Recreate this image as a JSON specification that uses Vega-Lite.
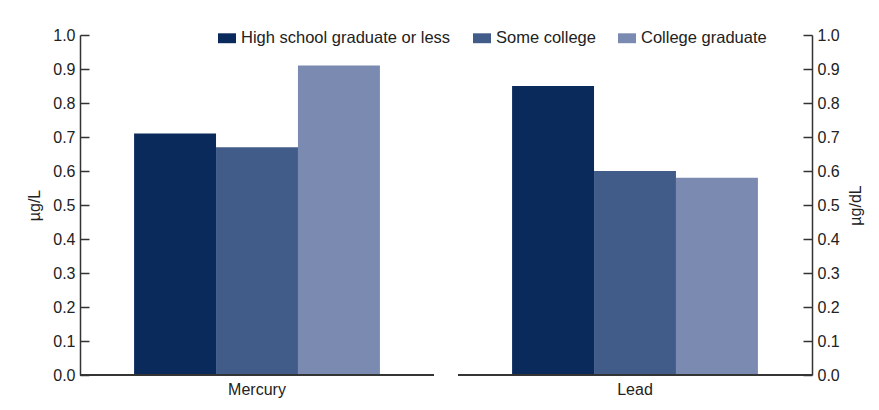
{
  "$schema": "https://vega.github.io/schema/vega-lite/v6.json",
  "autosize": {"type": "none"},
  "padding": {"left": 80, "top": 35, "right": 67, "bottom": 35},
  "width": 732,
  "height": 340,
  "background": "white",
  "data": {
    "values": [
      {"material": "Mercury", "education": "High school graduate or less", "value": 0.71},
      {"material": "Mercury", "education": "Some college", "value": 0.67},
      {"material": "Mercury", "education": "College graduate", "value": 0.91},
      {"material": "Lead", "education": "High school graduate or less", "value": 0.85},
      {"material": "Lead", "education": "Some college", "value": 0.60},
      {"material": "Lead", "education": "College graduate", "value": 0.58}
    ]
  },
  "encoding": {
    "x": {
      "field": "material",
      "type": "nominal",
      "sort": ["Mercury", "Lead"],
      "scale": {"paddingInner": 0.0635, "paddingOuter": 0},
      "axis": {
        "title": null,
        "ticks": false,
        "domain": false,
        "labelAngle": 0,
        "labelPadding": 6,
        "labelFontSize": 16,
        "labelColor": "#222222"
      }
    }
  },
  "layer": [
    {
      "mark": {"type": "bar"},
      "encoding": {
        "xOffset": {
          "field": "education",
          "type": "nominal",
          "sort": ["High school graduate or less", "Some college", "College graduate"],
          "scale": {"paddingInner": 0, "paddingOuter": 0.66}
        },
        "y": {
          "field": "value",
          "type": "quantitative",
          "scale": {"domain": [0, 1], "nice": false},
          "axis": {
            "orient": "left",
            "title": "µg/L",
            "titlePadding": 10,
            "values": [0, 0.1, 0.2, 0.3, 0.4, 0.5, 0.6, 0.7, 0.8, 0.9, 1.0],
            "format": ".1f"
          }
        },
        "color": {
          "field": "education",
          "type": "nominal",
          "sort": ["High school graduate or less", "Some college", "College graduate"],
          "scale": {"range": ["#0b2a5c", "#425c8a", "#7a8ab0"]},
          "legend": {
            "title": null,
            "orient": "none",
            "direction": "horizontal",
            "legendX": 138,
            "legendY": -6,
            "symbolType": "M-1,-0.55H1V0.55H-1Z",
            "symbolSize": 324,
            "symbolStrokeWidth": 0,
            "symbolOpacity": 1,
            "labelFontSize": 16.5,
            "labelColor": "#222222",
            "labelLimit": 0,
            "labelOffset": 5,
            "columnPadding": 22,
            "padding": 0
          }
        }
      }
    },
    {
      "mark": {"type": "bar", "fill": null, "stroke": "#333333", "strokeWidth": 1.5},
      "encoding": {
        "y": {
          "datum": 0,
          "type": "quantitative",
          "axis": {
            "orient": "right",
            "title": "µg/dL",
            "titleAngle": 270,
            "titleBaseline": "top",
            "titlePadding": 8,
            "values": [0, 0.1, 0.2, 0.3, 0.4, 0.5, 0.6, 0.7, 0.8, 0.9, 1.0],
            "format": ".1f"
          }
        },
        "y2": {"datum": 0}
      }
    }
  ],
  "resolve": {"axis": {"y": "independent"}},
  "config": {
    "font": "Liberation Sans",
    "view": {"stroke": null},
    "axis": {
      "grid": false,
      "domainColor": "#333333",
      "domainWidth": 1.5,
      "tickColor": "#333333",
      "tickWidth": 1.5,
      "labelFont": "Liberation Sans",
      "titleFont": "Liberation Sans"
    },
    "axisY": {
      "tickSize": -9,
      "labelPadding": 14,
      "labelFontSize": 16,
      "labelColor": "#222222",
      "titleFontSize": 16,
      "titleFontWeight": "normal",
      "titleColor": "#222222"
    },
    "legend": {"labelFont": "Liberation Sans"}
  }
}
